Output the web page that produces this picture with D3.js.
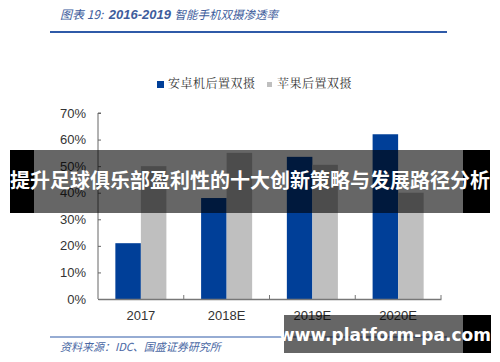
<!DOCTYPE html>
<html>
<head>
<meta charset="utf-8">
<script src="https://cdn.jsdelivr.net/npm/d3@7"></script>
<style>
  body { margin: 0; background: #fff; }
  svg { display: block; }
</style>
</head>
<body>
<div id="chart"></div>
<script>
// data
var years = ["2017", "2018E", "2019E", "2020E"];
var android = [0.21, 0.38, 0.535, 0.62];
var apple = [0.50, 0.55, 0.505, 0.40];
var seriesNames = ["安卓机后置双摄", "苹果后置双摄"];
var yTicks = [0, 0.1, 0.2, 0.3, 0.4, 0.5, 0.6, 0.7];

var W = 500, H = 362;
var margin = { top: 113, left: 98, right: 59, bottom: 63 };

var svg = d3.select("#chart").append("svg")
  .attr("width", W).attr("height", H);

var color = d3.scaleOrdinal().domain(seriesNames).range(["#003f98", "#bfbfbf"]);

// header title
var title = svg.append("text")
  .attr("x", 60).attr("y", 19)
  .style("white-space", "pre")
  .style("font-family", "'Noto Sans CJK SC', sans-serif")
  .style("font-style", "italic")
  .style("fill", "#3d5c9c");
title.append("tspan").text("图表 19:  ").style("font-size", "12px");
title.append("tspan").text("2016-2019 ").style("font-size", "13px").style("font-weight", "bold").style("font-family", "'Liberation Sans', sans-serif");
title.append("tspan").text("智能手机双摄渗透率").style("font-size", "11.5px");

svg.append("line")
  .attr("x1", 50).attr("x2", 447).attr("y1", 32).attr("y2", 32)
  .attr("stroke", "#2f5aa8").attr("stroke-width", 2);

// scales
var x0 = d3.scaleBand().domain(years).range([margin.left, W - margin.right]);
var x1 = d3.scaleBand().domain(seriesNames).range([0, x0.bandwidth()]).paddingOuter(0.68);
var y = d3.scaleLinear().domain([0, 0.7]).range([H - margin.bottom, margin.top]);

// bars
var rows = years.map(function (d, i) { return { year: d, vals: [android[i], apple[i]] }; });
var groups = svg.selectAll("g.grp").data(rows).enter().append("g")
  .attr("class", "grp")
  .attr("transform", function (d) { return "translate(" + x0(d.year) + ",0)"; });
groups.selectAll("rect")
  .data(function (d) { return d.vals.map(function (v, j) { return { name: seriesNames[j], v: v }; }); })
  .enter().append("rect")
  .attr("x", function (d) { return x1(d.name); })
  .attr("width", x1.bandwidth())
  .attr("y", function (d) { return y(d.v); })
  .attr("height", function (d) { return y(0) - y(d.v); })
  .attr("fill", function (d) { return color(d.name); });

// y axis
var yAxis = svg.append("g")
  .attr("transform", "translate(" + margin.left + ",0)")
  .call(d3.axisRight(y).tickValues(yTicks).tickSize(3).tickFormat(""));
yAxis.select(".domain").attr("stroke", "#666").attr("d", "M3," + y(0.7) + "H0V" + y(0));
yAxis.selectAll(".tick line").attr("stroke", "#666");
svg.selectAll("text.ylab").data(yTicks).enter().append("text")
  .attr("class", "ylab")
  .attr("x", 86).attr("y", function (d) { return y(d) + 4.5; })
  .attr("text-anchor", "end")
  .style("font-family", "'Liberation Sans', Arial, sans-serif")
  .style("font-size", "13px").style("fill", "#333")
  .text(function (d) { return Math.round(d * 100) + "%"; });

// x axis
var xAxis = svg.append("g")
  .attr("transform", "translate(0," + y(0) + ")")
  .call(d3.axisBottom(x0).tickSize(0).tickPadding(12));
xAxis.select(".domain").attr("stroke", "#777").attr("stroke-width", 1.5);
xAxis.selectAll("text")
  .style("font-family", "'Liberation Sans', Arial, sans-serif")
  .style("font-size", "13px").style("fill", "#333");
svg.selectAll("line.sep").data(years).enter().append("line")
  .attr("class", "sep")
  .attr("x1", function (d) { return x0(d) + x0.bandwidth(); })
  .attr("x2", function (d) { return x0(d) + x0.bandwidth(); })
  .attr("y1", y(0)).attr("y2", y(0) - 4)
  .attr("stroke", "#777");

// legend
var legX = [157, 267];
var legend = svg.selectAll("g.leg").data(seriesNames).enter().append("g")
  .attr("class", "leg")
  .attr("transform", function (d, i) { return "translate(" + legX[i] + ",81)"; });
legend.append("rect")
  .attr("width", function (d, i) { return i === 0 ? 7 : 5; })
  .attr("height", function (d, i) { return i === 0 ? 7 : 5; })
  .attr("y", function (d, i) { return i === 0 ? 0 : 1; })
  .attr("fill", function (d) { return color(d); });
legend.append("text")
  .attr("x", function (d, i) { return i === 0 ? 11 : 10; }).attr("y", 7)
  .style("font-family", "'Noto Serif CJK SC', 'Noto Sans CJK SC', serif")
  .style("font-size", "12px").style("fill", "#333")
  .style("letter-spacing", "0.5px")
  .text(function (d) { return d; });

// source
svg.append("line")
  .attr("x1", 50).attr("x2", 447).attr("y1", 337).attr("y2", 337)
  .attr("stroke", "#2f5aa8").attr("stroke-width", 1.2);
svg.append("text")
  .attr("x", 60).attr("y", 351)
  .style("font-family", "'Noto Sans CJK SC', sans-serif")
  .style("font-style", "italic")
  .style("font-size", "11px").style("fill", "#4a68a4")
  .text("资料来源：IDC、国盛证券研究所");

// banner overlay
svg.append("rect").attr("x", 10).attr("y", 150).attr("width", 24).attr("height", 63).attr("fill", "#000");
svg.append("rect").attr("x", 463).attr("y", 150).attr("width", 27).attr("height", 63).attr("fill", "#000");
svg.append("rect").attr("x", 34).attr("y", 150).attr("width", 429).attr("height", 63).attr("fill", "rgba(0,0,0,0.6)");
svg.append("text")
  .attr("x", 250).attr("y", 188)
  .attr("text-anchor", "middle")
  .style("font-family", "'Noto Sans CJK SC', sans-serif")
  .style("font-weight", "bold")
  .style("font-size", "20px").style("fill", "#fff")
  .text("提升足球俱乐部盈利性的十大创新策略与发展路径分析");

// watermark
svg.append("rect").attr("x", 463).attr("y", 315).attr("width", 28).attr("height", 38).attr("fill", "#000");
svg.append("rect").attr("x", 284).attr("y", 315).attr("width", 179).attr("height", 38).attr("fill", "rgba(0,0,0,0.6)");
svg.append("text")
  .attr("x", 385).attr("y", 341)
  .attr("text-anchor", "middle")
  .style("font-family", "'DejaVu Sans', sans-serif")
  .style("font-weight", "bold")
  .style("font-size", "17px").style("fill", "#fff")
  .text("www.platform-pa.com");
</script>
</body>
</html>
